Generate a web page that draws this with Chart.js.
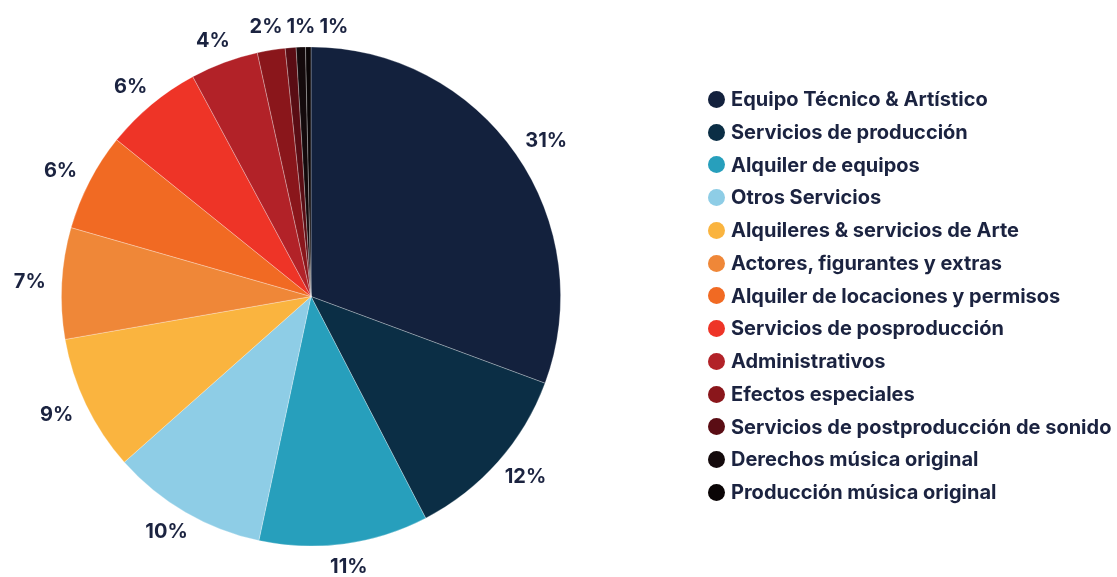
<!DOCTYPE html>
<html>
<head>
<meta charset="utf-8">
<script src="https://cdn.jsdelivr.net/npm/chart.js@4"></script>
<style>
    html, body { margin: 0; padding: 0; background: #fff; }
    #wrap { position: relative; width: 1117px; height: 577px; }
    #legend { position: absolute; left: 708px; top: 83px; margin: 0; padding: 0; list-style: none;
        font-family: Inter, sans-serif; font-weight: 700; font-size: 20px; color: #1b2340; }
    #legend li { height: 32.75px; line-height: 32.75px; white-space: nowrap; display: flex; align-items: center; }
    #legend span.dot { width: 17px; height: 17px; border-radius: 50%; margin-right: 6px; flex: none; }
</style>
</head>
<body>
<div id="wrap">
    <canvas id="costChart" width="1117" height="577"></canvas>
    <ul id="legend"></ul>
</div>
<script>
const categories = [
    'Equipo Técnico & Artístico',
    'Servicios de producción',
    'Alquiler de equipos',
    'Otros Servicios',
    'Alquileres & servicios de Arte',
    'Actores, figurantes y extras',
    'Alquiler de locaciones y permisos',
    'Servicios de posproducción',
    'Administrativos',
    'Efectos especiales',
    'Servicios de postproducción de sonido',
    'Derechos música original',
    'Producción música original'
];
// share of total budget, %
const shares = [30.65, 11.75, 10.95, 10.1, 8.8, 7.2, 6.35, 6.35, 4.4, 1.8, 0.7, 0.6, 0.35];
const colors = ['#13213d', '#0b2e45', '#279fbc', '#8ecde6', '#fab43f', '#ef8738', '#f16a23',
    '#ee3427', '#b22228', '#8a161b', '#5a0d14', '#140a0c', '#0a0506'];

const LABEL_FONT = '700 20px Inter, sans-serif';

// percentage labels outside each slice, nudged apart where they collide
const outerLabels = {
    id: 'outerLabels',
    afterDatasetsDraw(chart) {
        const { ctx } = chart;
        const meta = chart.getDatasetMeta(0);
        ctx.save();
        ctx.font = LABEL_FONT;
        ctx.fillStyle = '#1b2340';
        ctx.textAlign = 'center';
        ctx.textBaseline = 'middle';
        let prev = null;
        meta.data.forEach((arc, i) => {
            const v = shares[i];
            if (v < 0.5) return;
            const text = Math.round(v) + '%';
            const w = ctx.measureText(text).width;
            const h = 14;
            const mid = (arc.startAngle + arc.endAngle) / 2;
            const r = arc.outerRadius + 16;
            const cx = Math.cos(mid), sy = Math.sin(mid);
            let x = arc.x + cx * r + cx * w / 2;
            let y = arc.y + sy * r + sy * h / 2;
            if (prev && Math.abs(y - prev.y) < h && x - w / 2 < prev.right + 4) {
                x = prev.right + 4 + w / 2;
                y = prev.y;
            }
            ctx.fillText(text, x, y);
            prev = { right: x + w / 2, y: y };
        });
        ctx.restore();
    }
};

const ctx = document.getElementById('costChart').getContext('2d');
new Chart(ctx, {
    type: 'pie',
    data: {
        labels: categories,
        datasets: [{
            data: shares,
            backgroundColor: colors,
            borderColor: 'rgba(255,255,255,0.35)',
            borderWidth: 0.8
        }]
    },
    options: {
        responsive: false,
        animation: false,
        layout: { padding: { top: 46, bottom: 30, left: 61, right: 556 } },
        plugins: {
            legend: { display: false },
            tooltip: { enabled: false }
        }
    },
    plugins: [outerLabels]
});

// legend list built from the same arrays
const legend = document.getElementById('legend');
categories.forEach((name, i) => {
    const li = document.createElement('li');
    const dot = document.createElement('span');
    dot.className = 'dot';
    dot.style.background = colors[i];
    li.appendChild(dot);
    li.appendChild(document.createTextNode(name));
    legend.appendChild(li);
});
</script>
</body>
</html>
